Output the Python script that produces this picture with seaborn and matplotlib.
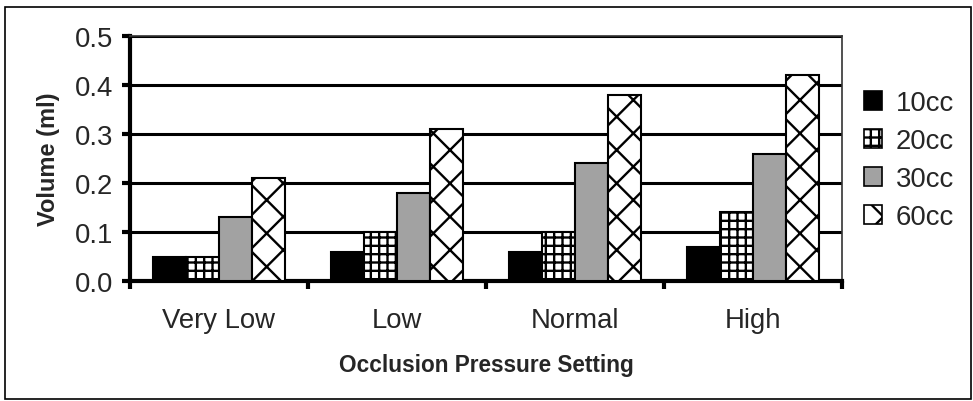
import matplotlib
matplotlib.use("Agg")
import matplotlib.pyplot as plt
import matplotlib.patches as mpatches
import pandas as pd
import seaborn as sns

sns.set_theme(style="white")
plt.rcParams["font.family"] = ["Liberation Sans", "DejaVu Sans"]
plt.rcParams["hatch.linewidth"] = 1.7

# Data
settings = ["Very Low", "Low", "Normal", "High"]
syringes = ["10cc", "20cc", "30cc", "60cc"]
vol_10cc = [0.05, 0.06, 0.06, 0.07]
vol_20cc = [0.05, 0.10, 0.10, 0.14]
vol_30cc = [0.13, 0.18, 0.24, 0.26]
vol_60cc = [0.21, 0.31, 0.38, 0.42]
y_ticks = [0.0, 0.1, 0.2, 0.3, 0.4, 0.5]

series = {"10cc": vol_10cc, "20cc": vol_20cc, "30cc": vol_30cc, "60cc": vol_60cc}
rows = []
for s in syringes:
    for setting, v in zip(settings, series[s]):
        rows.append({"setting": setting, "syringe": s, "volume": v})
df = pd.DataFrame(rows)

styles = {
    "10cc": dict(facecolor="black", hatch=None),
    "20cc": dict(facecolor="white", hatch="++"),
    "30cc": dict(facecolor="#a2a2a2", hatch=None),
    "60cc": dict(facecolor="white", hatch="x"),
}

fig = plt.figure(figsize=(9.73, 4.02), dpi=100)
ax = fig.add_axes([130 / 973, 1 - 282 / 402, 712 / 973, 245 / 402])

sns.barplot(data=df, x="setting", y="volume", hue="syringe", order=settings,
            hue_order=syringes, width=0.74, ax=ax, legend=False, zorder=3)

for s, cont in zip(syringes, ax.containers):
    st = styles[s]
    for bar in cont:
        bar.set_facecolor(st["facecolor"])
        bar.set_edgecolor("black")
        bar.set_linewidth(1.5)
        if st["hatch"]:
            bar.set_hatch(st["hatch"])

ax.set_ylim(0, 0.5)
ax.set_xlim(-0.5, len(settings) - 0.5)
ax.set_yticks(y_ticks)
ax.set_yticklabels([f"{t:.1f}" for t in y_ticks])
ax.yaxis.grid(True, color="black", linewidth=2.2, zorder=1)
ax.set_axisbelow(True)

# category boundary ticks on the x axis
ax.set_xticks(range(len(settings)))
ax.set_xticklabels(settings)
ax.set_xticks([i - 0.5 for i in range(len(settings) + 1)], minor=True)
ax.tick_params(axis="x", which="major", length=0, labelsize=19.8, pad=19)
ax.tick_params(axis="x", which="minor", length=6, width=3, color="black",
               direction="out", bottom=True)
ax.tick_params(axis="y", length=6, width=3, color="black", direction="out",
               left=True, labelsize=19.8, pad=6)

for side in ["left", "bottom"]:
    ax.spines[side].set_color("black")
    ax.spines[side].set_linewidth(3)
for side in ["top", "right"]:
    ax.spines[side].set_color("#333333")
    ax.spines[side].set_linewidth(1.2)

ax.set_xlabel("Occlusion Pressure Setting", fontsize=16.3, fontweight="bold",
              labelpad=14)
ax.set_ylabel("Volume (ml)", fontsize=17, fontweight="bold", labelpad=11)

handles = [mpatches.Patch(facecolor=styles[s]["facecolor"], edgecolor="black",
                          hatch=styles[s]["hatch"], linewidth=1.2)
           for s in syringes]
fig.legend(handles, syringes, loc="upper left", bbox_to_anchor=(864 / 973, 1 - 91 / 402),
           frameon=False, fontsize=19.8, handlelength=0.65, handleheight=0.65,
           handletextpad=0.5, labelspacing=0.44, borderaxespad=0, borderpad=0)

fig.add_artist(mpatches.Rectangle((5 / 973, 2 / 402), 966 / 973, 392 / 402,
                                  transform=fig.transFigure, fill=False,
                                  edgecolor="black", linewidth=1.2))

fig.savefig("out.png", dpi=100)
